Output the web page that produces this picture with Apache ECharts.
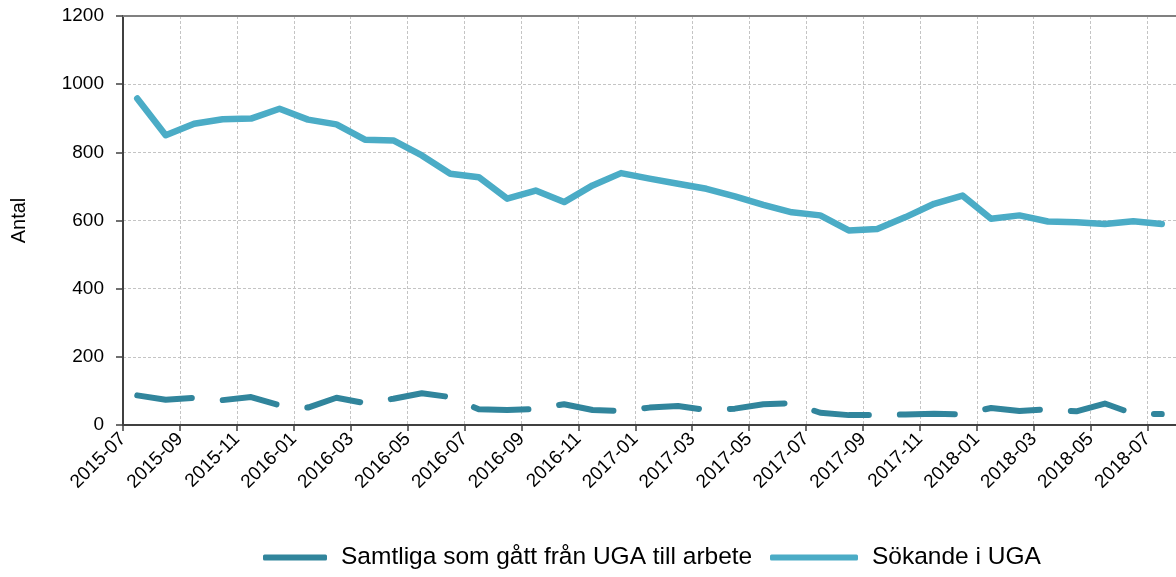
<!DOCTYPE html>
<html>
<head>
<meta charset="utf-8">
<script src="https://cdn.jsdelivr.net/npm/echarts@6/dist/echarts.min.js"></script>
<style>
  html, body { margin: 0; padding: 0; background: #fff; }
  #chart { width: 1176px; height: 577px; }
</style>
</head>
<body>
<div id="chart"></div>
<script>
// Månader (kategorier)
const months = [
  '2015-07', '2015-08', '2015-09', '2015-10', '2015-11', '2015-12',
  '2016-01', '2016-02', '2016-03', '2016-04', '2016-05', '2016-06',
  '2016-07', '2016-08', '2016-09', '2016-10', '2016-11', '2016-12',
  '2017-01', '2017-02', '2017-03', '2017-04', '2017-05', '2017-06',
  '2017-07', '2017-08', '2017-09', '2017-10', '2017-11', '2017-12',
  '2018-01', '2018-02', '2018-03', '2018-04', '2018-05', '2018-06',
  '2018-07'
];

// Samtliga som gått från UGA till arbete
const arbete = [
  87, 74, 80, 73, 82, 58,
  51, 80, 64, 77, 93, 82,
  46, 44, 47, 61, 44, 41,
  51, 56, 44, 48, 61, 64,
  36, 29, 29, 31, 33, 31,
  50, 41, 46, 40, 63, 33,
  32
];

// Sökande i UGA
const sokande = [
  958, 850, 884, 897, 899, 928,
  896, 882, 837, 835, 791, 737,
  727, 664, 688, 654, 703, 739,
  723, 708, 693, 671, 646, 624,
  615, 571, 575, 610, 649, 673,
  605, 615, 597, 595, 590, 598,
  590
];

const names = ['Samtliga som gått från UGA till arbete', 'Sökande i UGA'];

const colors = {
  dark: '#31859c',
  light: '#4bacc6',
  axis: '#404040',
  grid: '#c4c4c4',
  text: '#000000'
};

const font = '"Liberation Sans", Arial, sans-serif';

// punkterna ligger mitt i varje månad, etiketterna vid månadsgränsen
const toPoints = arr => arr.map((v, i) => [i + 0.5, v]);

const legendText = { fontFamily: font, fontSize: 24.5, color: colors.text, padding: [0, 0, 0, 9] };

const chart = echarts.init(document.getElementById('chart'));
chart.setOption({
  animation: false,
  backgroundColor: '#fff',
  textStyle: { fontFamily: font, color: colors.text },
  grid: { left: 123, right: -5, top: 16, bottom: 152 },
  legend: [
    {
      data: [{ name: names[0], icon: 'roundRect' }],
      left: 258, bottom: 2,
      itemWidth: 64, itemHeight: 6, itemGap: 14,
      textStyle: legendText
    },
    {
      data: [{ name: names[1], icon: 'roundRect' }],
      left: 765, bottom: 2,
      itemWidth: 88, itemHeight: 6, itemGap: 14,
      textStyle: legendText
    }
  ],
  xAxis: [
    {
      type: 'value',
      min: 0, max: 37, interval: 2,
      axisLine: { show: true, lineStyle: { color: colors.axis, width: 2 } },
      axisTick: { show: true, length: 6, lineStyle: { color: colors.axis, width: 1.5 } },
      splitLine: { show: true, lineStyle: { color: colors.grid, type: [3, 2], width: 1 } },
      axisLabel: {
        rotate: 45, margin: 11, fontSize: 19, color: colors.text, fontFamily: font,
        showMaxLabel: false,
        formatter: v => (v % 2 === 0 && months[v]) ? months[v] : ''
      }
    },
    {
      type: 'value', position: 'top',
      min: 0, max: 37,
      axisLine: { show: true, onZero: false, lineStyle: { color: '#808080', width: 2 } },
      axisTick: { show: false }, axisLabel: { show: false }, splitLine: { show: false }
    }
  ],
  yAxis: {
    type: 'value',
    min: 0, max: 1200, interval: 200,
    name: 'Antal',
    nameLocation: 'middle',
    nameGap: 94,
    nameTextStyle: { fontSize: 20, color: colors.text, fontFamily: font },
    axisLine: { show: true, lineStyle: { color: colors.axis, width: 2 } },
    axisTick: { show: true, length: 7, lineStyle: { color: colors.axis, width: 1.5 } },
    axisLabel: { fontSize: 19, color: colors.text, margin: 19, fontFamily: font, formatter: v => String(v) },
    splitLine: { show: true, lineStyle: { color: colors.grid, type: [3, 2], width: 1 } }
  },
  series: [
    {
      name: names[0],
      type: 'line',
      data: toPoints(arbete),
      showSymbol: false,
      symbol: 'none',
      color: colors.dark,
      lineStyle: { color: colors.dark, width: 6, type: [55, 31], cap: 'round', join: 'round' },
      z: 3
    },
    {
      name: names[1],
      type: 'line',
      data: toPoints(sokande),
      showSymbol: false,
      symbol: 'none',
      color: colors.light,
      lineStyle: { color: colors.light, width: 6.5, cap: 'round', join: 'round' },
      z: 4
    }
  ]
});
</script>
</body>
</html>
